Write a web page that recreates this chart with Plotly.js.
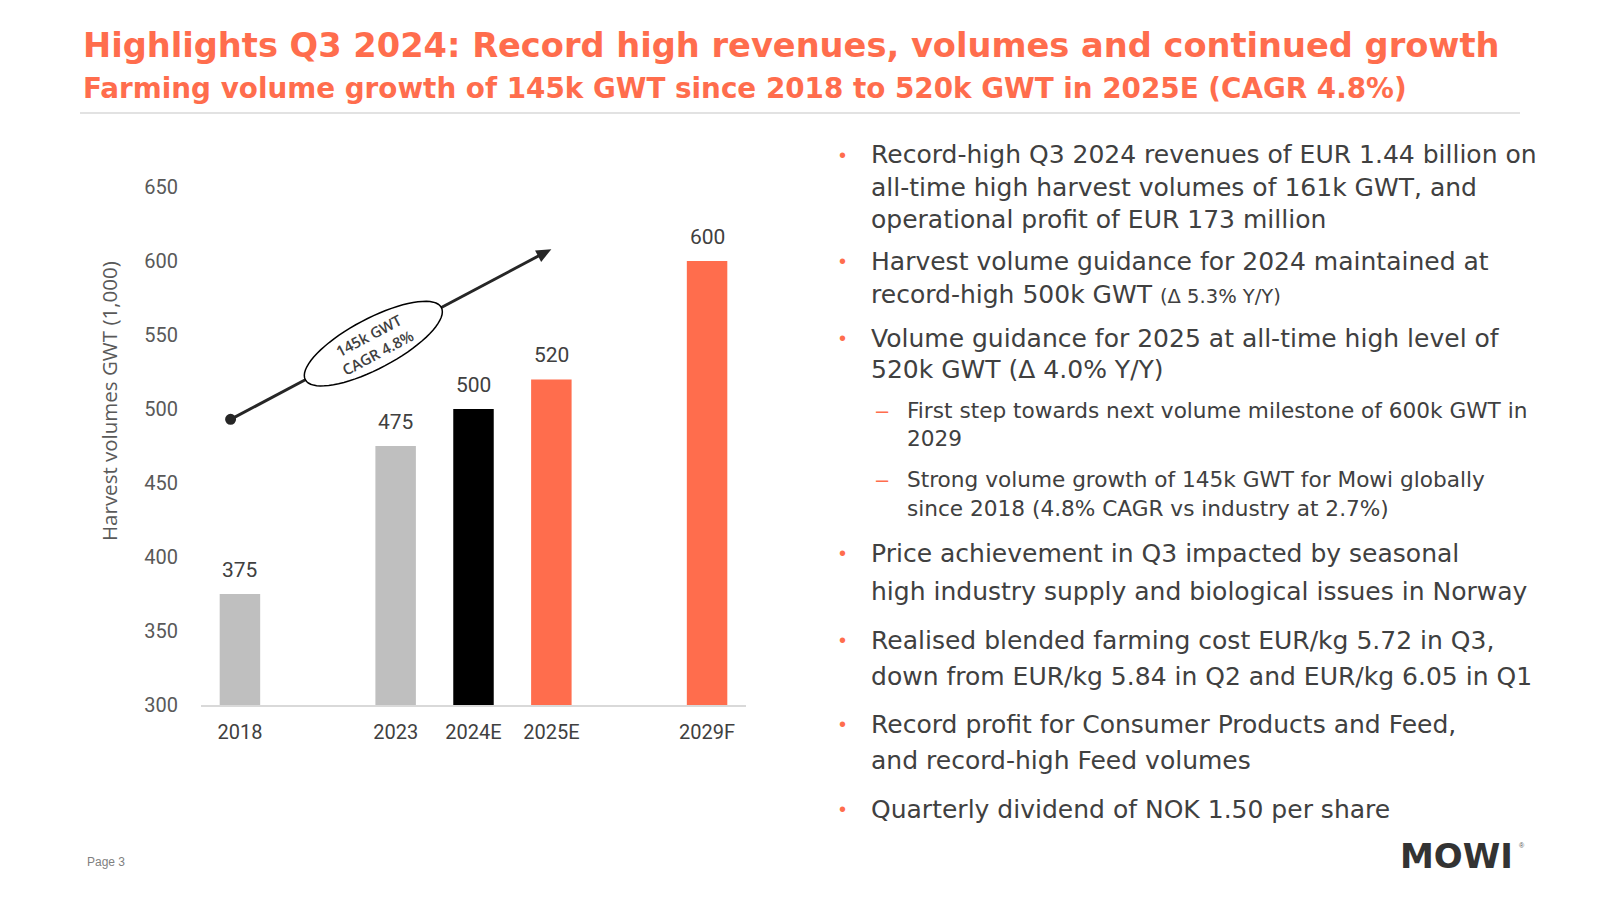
<!DOCTYPE html>
<html><head><meta charset="utf-8">
<script src="https://cdn.plot.ly/plotly-3.0.1.min.js"></script>
<style>html,body{margin:0;padding:0;background:#fff}#chart{width:1600px;height:900px}</style>
</head><body><div id="chart"></div>
<script>
// ---------------- DATA ----------------
const categories = ['2018', '2023', '2024E', '2025E', '2029F'];
const volumes = [375, 475, 500, 520, 600];
const barColors = ['#BFBFBF', '#BFBFBF', '#000000', '#FF6D4D', '#FF6D4D'];
const yTickValues = [300, 350, 400, 450, 500, 550, 600, 650];
const titleText = 'Highlights Q3 2024: Record high revenues, volumes and continued growth';
const subtitleText = 'Farming volume growth of 145k GWT since 2018 to 520k GWT in 2025E (CAGR 4.8%)';
const yAxisTitle = 'Harvest volumes GWT (1,000)';
const cagrLines = ['145k GWT', 'CAGR 4.8%'];
const growthFrom = 493;   // arrow start level (k GWT scale)
const growthTo = 608;     // arrow end level
const bulletLevels = [1, 1, 1, 2, 2, 1, 1, 1, 1];
const bulletTexts = [
  ['Record-high Q3 2024 revenues of EUR 1.44 billion on', 'all-time high harvest volumes of 161k GWT, and', 'operational profit of EUR 173 million'],
  ['Harvest volume guidance for 2024 maintained at', ['record-high 500k GWT ', '(Δ 5.3% Y/Y)']],
  ['Volume guidance for 2025 at all-time high level of', '520k GWT (Δ 4.0% Y/Y)'],
  ['First step towards next volume milestone of 600k GWT in', '2029'],
  ['Strong volume growth of 145k GWT for Mowi globally', 'since 2018 (4.8% CAGR vs industry at 2.7%)'],
  ['Price achievement in Q3 impacted by seasonal', 'high industry supply and biological issues in Norway'],
  ['Realised blended farming cost EUR/kg 5.72 in Q3,', 'down from EUR/kg 5.84 in Q2 and EUR/kg 6.05 in Q1'],
  ['Record profit for Consumer Products and Feed,', 'and record-high Feed volumes'],
  ['Quarterly dividend of NOK 1.50 per share']
];
const pageLabel = 'Page 3';
const logoText = 'MOWI';

// ---------------- LAYOUT ----------------
const W = 1600, H = 900;
const L = 201, R = 746, T = 187, B = 705;
const px2x = p => (p - L) / (R - L);
const py2y = p => (B - p) / (B - T);
const ORANGE = '#FF6D4D';
const TEXT = '#404040';
const INK = '#262626';
const condensed = '"Liberation Sans Narrow", "Arial Narrow", Roboto, sans-serif';
const bodyFont = '"DejaVu Sans", Verdana, sans-serif';
const catArray = ['2018', ' ', '2023', '2024E', '2025E', '  ', '2029F'];
const yMin = 300, yMax = 650;
const xRange = [-0.5, catArray.length - 0.5];
const pxPerX = (R - L) / (xRange[1] - xRange[0]);
const pxPerY = (B - T) / (yMax - yMin);

// size a font so a given string spans a target pixel width
const mctx = document.createElement('canvas').getContext('2d');
function fitSize(text, weight, target) {
  mctx.font = weight + ' 100px ' + bodyFont;
  return 100 * target / mctx.measureText(text).width;
}
const titleSize = fitSize(titleText, 'bold', 1417);
const subtitleSize = fitSize(subtitleText, 'bold', 1324);
const body1Size = fitSize(bulletTexts[0][0], 'normal', 666);
const body2Size = fitSize(bulletTexts[3][0], 'normal', 621);

// line centers (px) for the right text block
const lineY = [
  [155, 187, 219],
  [261, 294],
  [338, 369],
  [410, 438],
  [479, 508],
  [553, 591],
  [640, 676],
  [724, 760],
  [809]
];

const annotations = [];
const shapes = [];

// value labels above bars
categories.forEach((c, i) => {
  annotations.push({
    x: catArray.indexOf(c), y: volumes[i], xref: 'x', yref: 'y', text: String(volumes[i]),
    showarrow: false, yanchor: 'bottom', yshift: 10,
    font: {family: condensed, size: 21, color: TEXT}
  });
});

// y-axis title
annotations.push({
  xref: 'paper', yref: 'paper', x: px2x(109), y: py2y(401), text: yAxisTitle,
  textangle: -90, showarrow: false, xanchor: 'center', yanchor: 'middle',
  font: {family: '"Open Sans", sans-serif', size: 20.5, color: '#595959'}
});

// growth arrow geometry (computed in pixel space along the line)
const sx = -0.12, ex = catArray.indexOf('2025E');
const toPx = (x, y) => [L + (x - xRange[0]) * pxPerX, B - (y - yMin) * pxPerY];
const toData = (p) => [(p[0] - L) / pxPerX + xRange[0], (B - p[1]) / pxPerY + yMin];
const pS = toPx(sx, growthFrom), pE = toPx(ex, growthTo);
const dx = pE[0] - pS[0], dy = pE[1] - pS[1];
const len = Math.hypot(dx, dy);
const ux = dx / len, uy = dy / len;
const tC = 0.445;
const pC = [pS[0] + dx * tC, pS[1] + dy * tC];
const semiA = 77, semiB = 25;
const headLen = 15, headHalf = 6.5;
const pEL = [pC[0] - ux * semiA, pC[1] - uy * semiA];
const pER = [pC[0] + ux * semiA, pC[1] + uy * semiA];
const pHB = [pE[0] - ux * (headLen - 2), pE[1] - uy * (headLen - 2)];
const dS = toData(pS), dE = toData(pE), dC = toData(pC), dL = toData(pEL), dR = toData(pER), dHB = toData(pHB);
const th = Math.atan2(-dy, dx);       // angle in y-up pixel space
const angleDeg = th * 180 / Math.PI;
const rot = (X, Y) => [X * Math.cos(th) - Y * Math.sin(th), X * Math.sin(th) + Y * Math.cos(th)];

// lower and upper line segments
shapes.push({type: 'line', xref: 'x', yref: 'y', x0: dS[0], y0: dS[1], x1: dL[0], y1: dL[1],
  line: {color: INK, width: 3}, layer: 'above'});
shapes.push({type: 'line', xref: 'x', yref: 'y', x0: dR[0], y0: dR[1], x1: dHB[0], y1: dHB[1],
  line: {color: INK, width: 3}, layer: 'above'});
// arrow head (triangle, pixel sized, anchored at the tip)
(function () {
  const a = rot(0, 0), b = rot(-headLen, headHalf), c = rot(-headLen, -headHalf);
  shapes.push({type: 'path', xref: 'x', yref: 'y', xsizemode: 'pixel', ysizemode: 'pixel',
    xanchor: dE[0], yanchor: dE[1],
    path: 'M' + a.join(',') + 'L' + b.join(',') + 'L' + c.join(',') + 'Z',
    fillcolor: INK, line: {width: 0}, layer: 'above'});
})();
// start dot
shapes.push({type: 'circle', xref: 'x', yref: 'y', xsizemode: 'pixel', ysizemode: 'pixel',
  xanchor: dS[0], yanchor: dS[1], x0: -5.5, x1: 5.5, y0: -5.5, y1: 5.5,
  fillcolor: INK, line: {width: 0}, layer: 'above'});
// rotated ellipse
(function () {
  let path = '';
  const n = 72;
  for (let k = 0; k <= n; k++) {
    const t = 2 * Math.PI * k / n;
    const p = rot(semiA * Math.cos(t), semiB * Math.sin(t));
    path += (k === 0 ? 'M' : 'L') + p[0].toFixed(2) + ',' + p[1].toFixed(2);
  }
  path += 'Z';
  shapes.push({type: 'path', xref: 'x', yref: 'y', xsizemode: 'pixel', ysizemode: 'pixel',
    xanchor: dC[0], yanchor: dC[1], path: path, fillcolor: '#FFFFFF',
    line: {color: '#000000', width: 1.5}, layer: 'above'});
})();
annotations.push({xref: 'x', yref: 'y', x: dC[0], y: dC[1], text: cagrLines.join('<br>'),
  textangle: -angleDeg, showarrow: false, xanchor: 'center', yanchor: 'middle',
  font: {family: '"Open Sans", sans-serif', size: 15, color: TEXT, weight: 600}});

// header
annotations.push({xref: 'paper', yref: 'paper', x: px2x(81), y: py2y(45), xanchor: 'left', yanchor: 'middle',
  text: '<b>' + titleText + '</b>', showarrow: false,
  font: {family: bodyFont, size: titleSize, color: ORANGE}});
annotations.push({xref: 'paper', yref: 'paper', x: px2x(81), y: py2y(88), xanchor: 'left', yanchor: 'middle',
  text: '<b>' + subtitleText + '</b>', showarrow: false,
  font: {family: bodyFont, size: subtitleSize, color: ORANGE}});
shapes.push({type: 'line', xref: 'paper', yref: 'paper', x0: px2x(80), x1: px2x(1520), y0: py2y(113), y1: py2y(113),
  line: {color: '#D9D9D9', width: 1.5}});

// right-hand text block
bulletTexts.forEach((lines, i) => {
  const lvl = bulletLevels[i];
  const size = lvl === 1 ? body1Size : body2Size;
  const textX = lvl === 1 ? 869 : 905;
  const markX = lvl === 1 ? 837 : 874;
  annotations.push({xref: 'paper', yref: 'paper', x: px2x(markX), y: py2y(lineY[i][0]), xanchor: 'left', yanchor: 'middle',
    text: lvl === 1 ? '•' : '–', showarrow: false, font: {family: 'Arial, sans-serif', size: lvl === 1 ? 20 : 22, color: ORANGE}});
  lines.forEach((ln, j) => {
    let txt = ln;
    if (Array.isArray(ln)) txt = ln[0] + '<span style="font-size:' + (size * 0.78).toFixed(1) + 'px">' + ln[1] + '</span>';
    annotations.push({xref: 'paper', yref: 'paper', x: px2x(textX), y: py2y(lineY[i][j]), xanchor: 'left', yanchor: 'middle',
      text: txt, showarrow: false, font: {family: bodyFont, size: size, color: TEXT}});
  });
});

// footer
annotations.push({xref: 'paper', yref: 'paper', x: px2x(85), y: py2y(862), xanchor: 'left', yanchor: 'middle',
  text: pageLabel, showarrow: false, font: {family: 'Arial, sans-serif', size: 12, color: '#7F7F7F'}});
annotations.push({xref: 'paper', yref: 'paper', x: px2x(1515), y: py2y(856), xanchor: 'right', yanchor: 'middle',
  text: '<b>' + logoText + '</b>', showarrow: false,
  font: {family: bodyFont, size: 34, color: '#333333'}});
annotations.push({xref: 'paper', yref: 'paper', x: px2x(1517), y: py2y(845), xanchor: 'left', yanchor: 'middle',
  text: '®', showarrow: false, font: {family: 'Arial, sans-serif', size: 7, color: '#555555'}});

const trace = {
  type: 'bar', x: categories, y: volumes,
  marker: {color: barColors, line: {width: 0}},
  hoverinfo: 'x+y', cliponaxis: false
};

const layout = {
  width: W, height: H,
  margin: {l: L, r: W - R, t: T, b: H - B, pad: 0},
  paper_bgcolor: '#FFFFFF', plot_bgcolor: '#FFFFFF',
  showlegend: false, bargap: 0.48,
  xaxis: {
    type: 'category', categoryorder: 'array', categoryarray: catArray,
    tickmode: 'array', tickvals: categories, ticktext: categories,
    range: xRange, fixedrange: true,
    showline: true, linecolor: '#D9D9D9', linewidth: 1.5, showgrid: false, zeroline: false,
    ticks: 'outside', ticklen: 8, tickcolor: 'rgba(0,0,0,0)',
    tickfont: {family: condensed, size: 20, color: TEXT}
  },
  yaxis: {
    range: [yMin, yMax], tickmode: 'array', tickvals: yTickValues, fixedrange: true,
    showline: false, showgrid: false, zeroline: false,
    ticks: 'outside', ticklen: 18, tickcolor: 'rgba(0,0,0,0)',
    tickfont: {family: condensed, size: 20, color: '#595959'}
  },
  annotations: annotations,
  shapes: shapes
};

Plotly.newPlot('chart', [trace], layout, {displayModeBar: false, staticPlot: true});
</script></body></html>
